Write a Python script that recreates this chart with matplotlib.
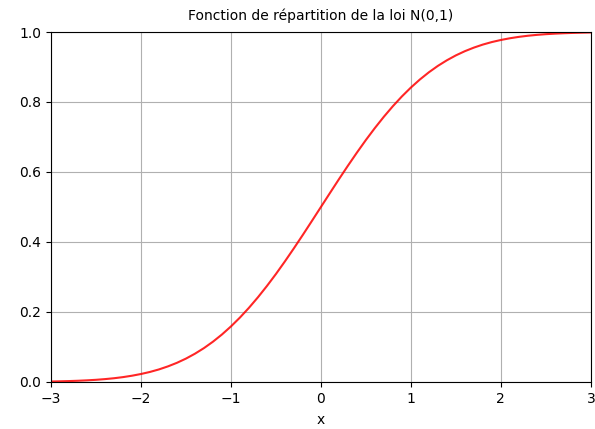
import numpy as np
import matplotlib
matplotlib.use("Agg")
import matplotlib.pyplot as plt

# values, every 0.1 on x
x_vals = [-3.0, -2.9, -2.8, -2.7, -2.6, -2.5, -2.4, -2.3, -2.2, -2.1,
          -2.0, -1.9, -1.8, -1.7, -1.6, -1.5, -1.4, -1.3, -1.2, -1.1,
          -1.0, -0.9, -0.8, -0.7, -0.6, -0.5, -0.4, -0.3, -0.2, -0.1,
          0.0, 0.1, 0.2, 0.3, 0.4, 0.5, 0.6, 0.7, 0.8, 0.9,
          1.0, 1.1, 1.2, 1.3, 1.4, 1.5, 1.6, 1.7, 1.8, 1.9,
          2.0, 2.1, 2.2, 2.3, 2.4, 2.5, 2.6, 2.7, 2.8, 2.9, 3.0]
cdf_vals = [0.0013, 0.0019, 0.0026, 0.0035, 0.0047, 0.0062, 0.0082, 0.0107, 0.0139, 0.0179,
            0.0228, 0.0287, 0.0359, 0.0446, 0.0548, 0.0668, 0.0808, 0.0968, 0.1151, 0.1357,
            0.1587, 0.1841, 0.2119, 0.2420, 0.2743, 0.3085, 0.3446, 0.3821, 0.4207, 0.4602,
            0.5000, 0.5398, 0.5793, 0.6179, 0.6554, 0.6915, 0.7257, 0.7580, 0.7881, 0.8159,
            0.8413, 0.8643, 0.8849, 0.9032, 0.9192, 0.9332, 0.9452, 0.9554, 0.9641, 0.9713,
            0.9772, 0.9821, 0.9861, 0.9893, 0.9918, 0.9938, 0.9953, 0.9965, 0.9974, 0.9981, 0.9987]
x_ticks = [-3, -2, -1, 0, 1, 2, 3]
y_ticks = [0.0, 0.2, 0.4, 0.6, 0.8, 1.0]

fig = plt.figure(figsize=(5.95, 4.29), dpi=100)
ax = fig.add_axes([0.0857, 0.1096, 0.9073, 0.8158])
ax.plot(x_vals, cdf_vals, color="red", alpha=0.85, linewidth=1.5)
ax.set_xlim(-3, 3)
ax.set_ylim(0, 1)
ax.set_xticks(x_ticks)
ax.set_yticks(y_ticks)
ax.set_xlabel("x", labelpad=5)
ax.set_title("Fonction de répartition de la loi N(0,1)", fontsize=10, pad=9)
ax.grid(True)
ax.set_axisbelow(True)
fig.savefig("out.png", dpi=100)
